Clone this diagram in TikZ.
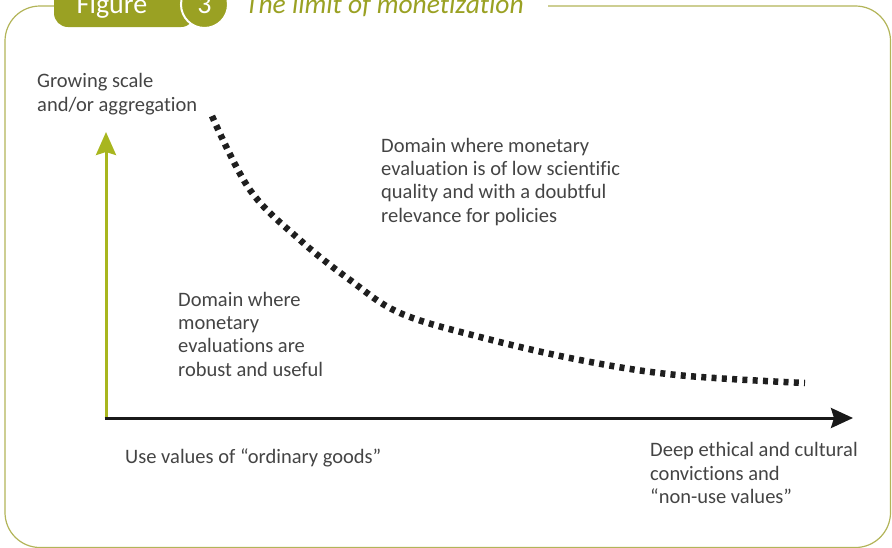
\documentclass[tikz,border=0pt]{standalone}
\usepackage{fontspec}
\setmainfont{Carlito}[Ligatures={NoCommon,TeX}]
\usetikzlibrary{arrows.meta}
\usetikzlibrary{positioning}

\definecolor{figgreen}{RGB}{154,161,35}
\definecolor{axisgreen}{RGB}{168,182,30}
\definecolor{framegreen}{RGB}{178,180,88}
\definecolor{textgray}{RGB}{68,68,68}

\tikzset{
	labeltext/.style={anchor=base west, align=left, inner sep=0pt, text=textgray,
		font=\fontsize{20.5}{23.3}\selectfont},
	limitcurve/.style={line width=6.5pt, dash pattern=on 5pt off 5.3pt, black!88},
}

\begin{document}
\begin{tikzpicture}[x=1pt,y=-1pt]
	\useasboundingbox (0,0) rectangle (892,547);
	% frame and header
	\draw[framegreen, line width=1.2pt, rounded corners=35pt]
		(55,6) -- (5,6) -- (5,547.5) -- (890.5,547.5) -- (890.5,6) -- (548,6);
	\fill[figgreen, rounded corners=14pt] (54,-25) rectangle (195,27);
	\filldraw[figgreen, draw=white, line width=2pt] (204.5,4.5) circle (23.5pt);
	\node (figword) [anchor=base, inner sep=0pt, white, font=\fontsize{28}{28}\selectfont] at (112,13) {Figure};
	\node (fignum) [anchor=base, inner sep=0pt, white, font=\fontsize{28}{28}\selectfont] at (204.5,13) {3};
	\node (figtitle) [anchor=base west, inner sep=0pt, text=figgreen, font=\fontsize{27.5}{27.5}\selectfont\itshape] at (245,13) {The limit of monetization};
	% axes
	\coordinate (origin) at (106,418);
	\coordinate (ytop) at (106,132);
	\coordinate (xend) at (853,418);
	\draw[axisgreen, line width=3pt, -{Stealth[length=23pt, width=20pt, inset=3pt]}] (origin) -- (ytop);
	\draw[black!90, line width=3pt, -{Stealth[length=22pt, width=20pt, inset=3pt]}] ([xshift=-1.5pt]origin) -- (xend);
	% the limit
	\draw[limitcurve] plot[smooth, tension=0.6] coordinates {(212,116) (250,190) (300,240) (350,280)
		(400,313) (480,337) (580,360) (677,375) (805,383)};
	% texts (base = last line)
	\node (yname) [labeltext] at (37,111) {Growing scale\\and/or aggregation};
	\node (highdomain) [labeltext] at (381,222) {Domain where monetary\\evaluation is of low scientific\\quality and with a doubtful\\relevance for policies};
	\node (lowdomain) [labeltext] at (178,376) {Domain where\\monetary\\evaluations are\\robust and useful};
	\node (xleft) [labeltext] at (125,463) {Use values of “ordinary goods”};
	\node (xright) [labeltext] at (650,503.5) {Deep ethical and cultural\\convictions and\\“non-use values”};
\end{tikzpicture}
\end{document}
